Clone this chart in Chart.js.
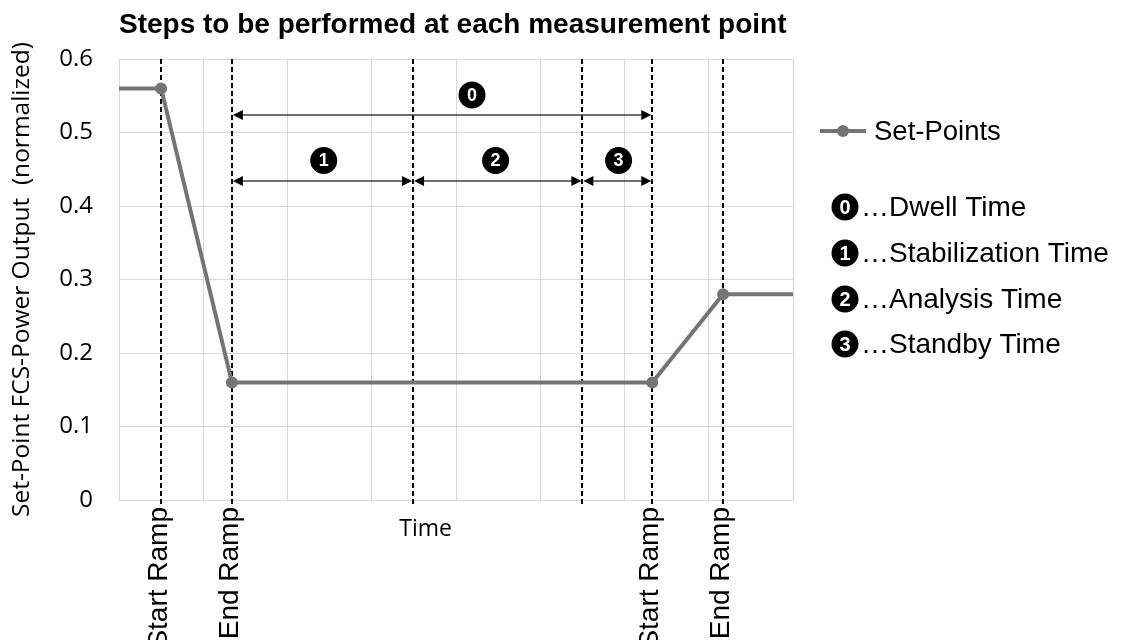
<!DOCTYPE html>
<html lang="en">
<head>
<meta charset="utf-8" />
<title>Steps to be performed at each measurement point</title>
<script src="https://cdn.jsdelivr.net/npm/chart.js@4.4.1/dist/chart.umd.min.js"></script>
<style>
    html, body { margin: 0; padding: 0; background: #fff; }
</style>
</head>
<body>
<canvas id="stepsChart" width="1121" height="640"></canvas>
<script>
    // set-point curve
    const timeValues = [0, 0.5, 1.34, 6.33, 7.17, 8];
    const setPoints = [0.56, 0.56, 0.16, 0.16, 0.28, 0.28];
    const markerRadius = [0, 5, 5, 5, 5, 0];

    // dashed event lines with their axis labels
    const eventTimes = [0.5, 1.34, 3.49, 5.5, 6.33, 7.17];
    const eventLabels = ['Start Ramp', 'End Ramp', '', '', 'Start Ramp', 'End Ramp'];

    // light vertical grid
    const gridTimes = [0, 1, 2, 3, 4, 5, 6, 7, 8];

    // time spans (double arrows) and their numbered badges
    const spanNumbers = ['0', '1', '2', '3'];
    const spanStarts = [1.34, 1.34, 3.49, 5.5];
    const spanEnds = [6.33, 3.49, 5.5, 6.33];
    const spanLevels = [0.524, 0.434, 0.434, 0.434];
    const badgeTimes = [4.19, 2.43, 4.47, 5.93];
    const badgeLevels = [0.551, 0.462, 0.462, 0.462];
    const spanNames = ['Dwell Time', 'Stabilization Time', 'Analysis Time', 'Standby Time'];

    const lineColor = '#787373';

    function drawBadge(ctx, cx, cy, r, text, size) {
        ctx.beginPath();
        ctx.arc(cx, cy, r, 0, Math.PI * 2);
        ctx.fillStyle = '#000';
        ctx.fill();
        ctx.fillStyle = '#fff';
        ctx.font = 'bold ' + size + 'px "Liberation Sans"';
        ctx.textAlign = 'center';
        ctx.textBaseline = 'middle';
        ctx.fillText(text, cx, cy + 1);
    }

    function drawHead(ctx, tipX, y, dir) {
        ctx.beginPath();
        ctx.moveTo(tipX, y);
        ctx.lineTo(tipX - dir * 10, y - 5);
        ctx.lineTo(tipX - dir * 10, y + 5);
        ctx.closePath();
        ctx.fill();
    }

    const annotations = {
        id: 'annotations',
        beforeDatasetsDraw(chart) {
            const { ctx, chartArea, scales: { x } } = chart;
            ctx.save();
            ctx.strokeStyle = '#000';
            ctx.lineWidth = 2;
            ctx.setLineDash([5, 3]);
            eventTimes.forEach(t => {
                const px = Math.round(x.getPixelForValue(t));
                ctx.beginPath();
                ctx.moveTo(px, chartArea.top);
                ctx.lineTo(px, chartArea.bottom + 5);
                ctx.stroke();
            });
            ctx.restore();
        },
        afterDatasetsDraw(chart) {
            const { ctx, scales: { x, y } } = chart;
            ctx.save();
            spanNumbers.forEach((n, i) => {
                const x1 = x.getPixelForValue(spanStarts[i]);
                const x2 = x.getPixelForValue(spanEnds[i]);
                const py = Math.round(y.getPixelForValue(spanLevels[i]));
                ctx.strokeStyle = '#404040';
                ctx.lineWidth = 1.5;
                ctx.beginPath();
                ctx.moveTo(x1 + 4, py);
                ctx.lineTo(x2 - 4, py);
                ctx.stroke();
                ctx.fillStyle = '#000';
                drawHead(ctx, x1 + 1, py, -1);
                drawHead(ctx, x2 - 1, py, 1);
                drawBadge(ctx, x.getPixelForValue(badgeTimes[i]), y.getPixelForValue(badgeLevels[i]), 13.5, n, 18);
            });
            ctx.restore();
        },
        afterDraw(chart) {
            const { ctx, chartArea, scales: { x } } = chart;
            ctx.save();
            // axis caption
            ctx.fillStyle = '#000';
            ctx.font = '23px "Open Sans"';
            ctx.textAlign = 'center';
            ctx.textBaseline = 'middle';
            ctx.fillText('Time', x.getPixelForValue(3.64), chartArea.bottom + 29);

            // legend
            const lx = chartArea.right;
            ctx.strokeStyle = lineColor;
            ctx.lineWidth = 4;
            ctx.beginPath();
            ctx.moveTo(lx + 27, 131);
            ctx.lineTo(lx + 73, 131);
            ctx.stroke();
            ctx.beginPath();
            ctx.arc(lx + 50, 131, 6, 0, Math.PI * 2);
            ctx.fillStyle = lineColor;
            ctx.fill();
            ctx.fillStyle = '#000';
            ctx.font = '27.5px "Liberation Sans"';
            ctx.textAlign = 'left';
            ctx.fillText('Set-Points', lx + 81, 132);

            const rows = [207, 253, 299, 344];
            spanNames.forEach((name, i) => {
                drawBadge(ctx, lx + 52, rows[i], 13.5, spanNumbers[i], 20);
                ctx.fillStyle = '#000';
                ctx.font = '28px "Liberation Sans"';
                ctx.textAlign = 'left';
                ctx.textBaseline = 'middle';
                ctx.fillText('\u2026' + name, lx + 68, rows[i] + 1);
            });
            ctx.restore();
        }
    };

    new Chart(document.getElementById('stepsChart'), {
        type: 'line',
        data: {
            datasets: [{
                label: 'Set-Points',
                data: timeValues.map((t, i) => ({ x: t, y: setPoints[i] })),
                borderColor: lineColor,
                backgroundColor: lineColor,
                borderWidth: 4,
                pointRadius: markerRadius,
                pointBorderWidth: 2,
                pointBackgroundColor: lineColor,
                pointBorderColor: lineColor,
                tension: 0
            }]
        },
        options: {
            responsive: false,
            animation: false,
            layout: { padding: { left: 0, right: 328, top: 0, bottom: 0 } },
            plugins: {
                legend: { display: false },
                tooltip: { enabled: false },
                title: {
                    display: true,
                    fullSize: false,
                    align: 'start',
                    text: 'Steps to be performed at each measurement point',
                    color: '#000',
                    font: { family: 'Liberation Sans', size: 28, weight: 'bold' },
                    padding: { top: 8, bottom: 17.4 }
                }
            },
            scales: {
                x: {
                    type: 'linear',
                    min: 0,
                    max: 8,
                    afterBuildTicks(scale) {
                        scale.ticks = gridTimes.concat(eventTimes)
                            .sort((a, b) => a - b)
                            .map(v => ({ value: v }));
                    },
                    afterFit(scale) { scale.height = 140; },
                    grid: {
                        drawTicks: false,
                        color: ctx => (ctx.tick && gridTimes.includes(ctx.tick.value)) ? '#d9d9d9' : 'rgba(0,0,0,0)'
                    },
                    border: { color: '#d9d9d9' },
                    ticks: {
                        autoSkip: false,
                        minRotation: 90,
                        maxRotation: 90,
                        padding: 7,
                        labelOffset: -2,
                        color: '#000',
                        font: { family: 'Liberation Sans', size: 28 },
                        callback: value => {
                            const i = eventTimes.indexOf(value);
                            return i >= 0 ? eventLabels[i] : '';
                        }
                    }
                },
                y: {
                    min: 0,
                    max: 0.6,
                    afterFit(scale) { scale.width = 119; },
                    grid: { drawTicks: false, color: '#d9d9d9' },
                    border: { color: '#d9d9d9' },
                    ticks: {
                        stepSize: 0.1,
                        padding: 26,
                        color: '#000',
                        font: { family: 'Open Sans', size: 24 },
                        callback: v => +v.toFixed(1)
                    },
                    title: {
                        display: true,
                        text: 'Set-Point FCS-Power Output  (normalized)',
                        color: '#000',
                        font: { family: 'Open Sans', size: 24.5 },
                        padding: { top: 7, bottom: 0 }
                    }
                }
            }
        },
        plugins: [annotations]
    });
</script>
</body>
</html>
